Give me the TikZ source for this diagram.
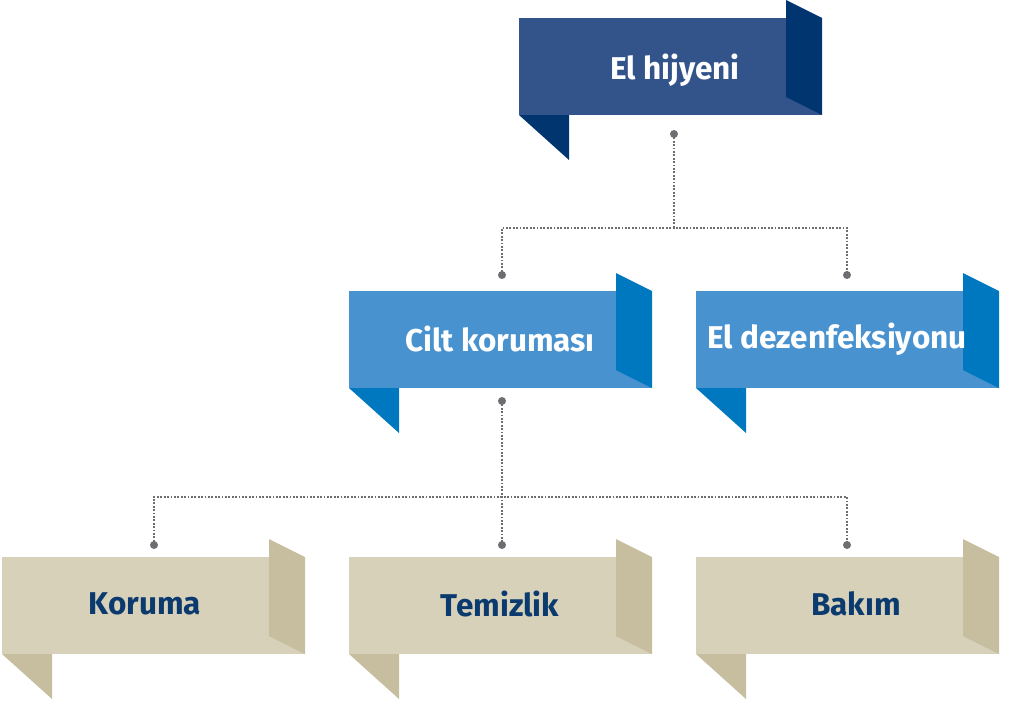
\documentclass[tikz,border=0pt]{standalone}
\usepackage{fontspec}
\setmainfont{Fira Sans}
\usepackage{tikz}
\usetikzlibrary{positioning,calc}
\definecolor{topblue}{HTML}{33548A}
\definecolor{topdark}{HTML}{003570}
\definecolor{midblue}{HTML}{4892CF}
\definecolor{middark}{HTML}{0078C0}
\definecolor{beige}{HTML}{D8D1BA}
\definecolor{beigedark}{HTML}{C6BE9F}
\definecolor{navy}{HTML}{0A3A6E}
\definecolor{conngray}{HTML}{6D6E71}
% ribbon: name, left x, top y, face colour, fold colour
\newcommand{\ribbon}[5]{%
  \fill[#4] (#2,#3) rectangle ++(303,97);
  \fill[#5] (#2+267,#3-18) -- ++(36,18) -- ++(0,97) -- ++(-36,-18) -- cycle;
  \fill[#5] (#2,#3+97) -- ++(50,0) -- ++(0,45) -- cycle;
  \node[inner sep=0, minimum width=303pt, minimum height=97pt, anchor=north west] (#1) at (#2,#3) {};
}
\begin{document}
\begin{tikzpicture}[x=1pt,y=-1pt,
  lbl/.style={font=\fontsize{31.5}{36}\selectfont\bfseries, inner sep=0},
  conn/.style={conngray, line width=1.8pt, dash pattern=on 1.8pt off 1.6pt},
  dot/.style={fill=conngray}]
	\useasboundingbox (0,0) rectangle (1009,702);
		\ribbon{hyg}{519}{18}{topblue}{topdark}
		\ribbon{cilt}{349}{291}{midblue}{middark}
		\ribbon{dez}{696}{291}{midblue}{middark}
		\ribbon{kor}{2}{557}{beige}{beigedark}
		\ribbon{tem}{349}{557}{beige}{beigedark}
		\ribbon{bak}{696}{557}{beige}{beigedark}
		\node[lbl, white] (thyg) at (675,70) {El hijyeni};
		\node[lbl, white] (tcilt) at (500,339) {Cilt koruması};
		\node[lbl, white] (tdez) at (837,339) {El dezenfeksiyonu};
		\node[lbl, navy] (tkor) at (145,604) {Koruma};
		\node[lbl, navy] (ttem) at (500,604) {Temizlik};
		\node[lbl, navy] (tbak) at (856,604) {Bakım};
		% connectors
		\coordinate (a0) at (674,134); \coordinate (aj) at (674,228);
		\coordinate (a1) at (502,275); \coordinate (a2) at (847,275);
		\coordinate (b0) at (502,401); \coordinate (bj) at (502,497);
		\coordinate (b1) at (154,545); \coordinate (b2) at (502,545); \coordinate (b3) at (847,545);
		\draw[conn] (a0) -- (aj);
		\draw[conn] (a1) |- (aj) -| (a2);
		\draw[conn] (b0) -- (b2);
		\draw[conn] (b1) |- (bj) -| (b3);
		\foreach \d in {a0,a1,a2,b0,b1,b2,b3}
			\fill[dot] (\d) circle (4);
\end{tikzpicture}
\end{document}
